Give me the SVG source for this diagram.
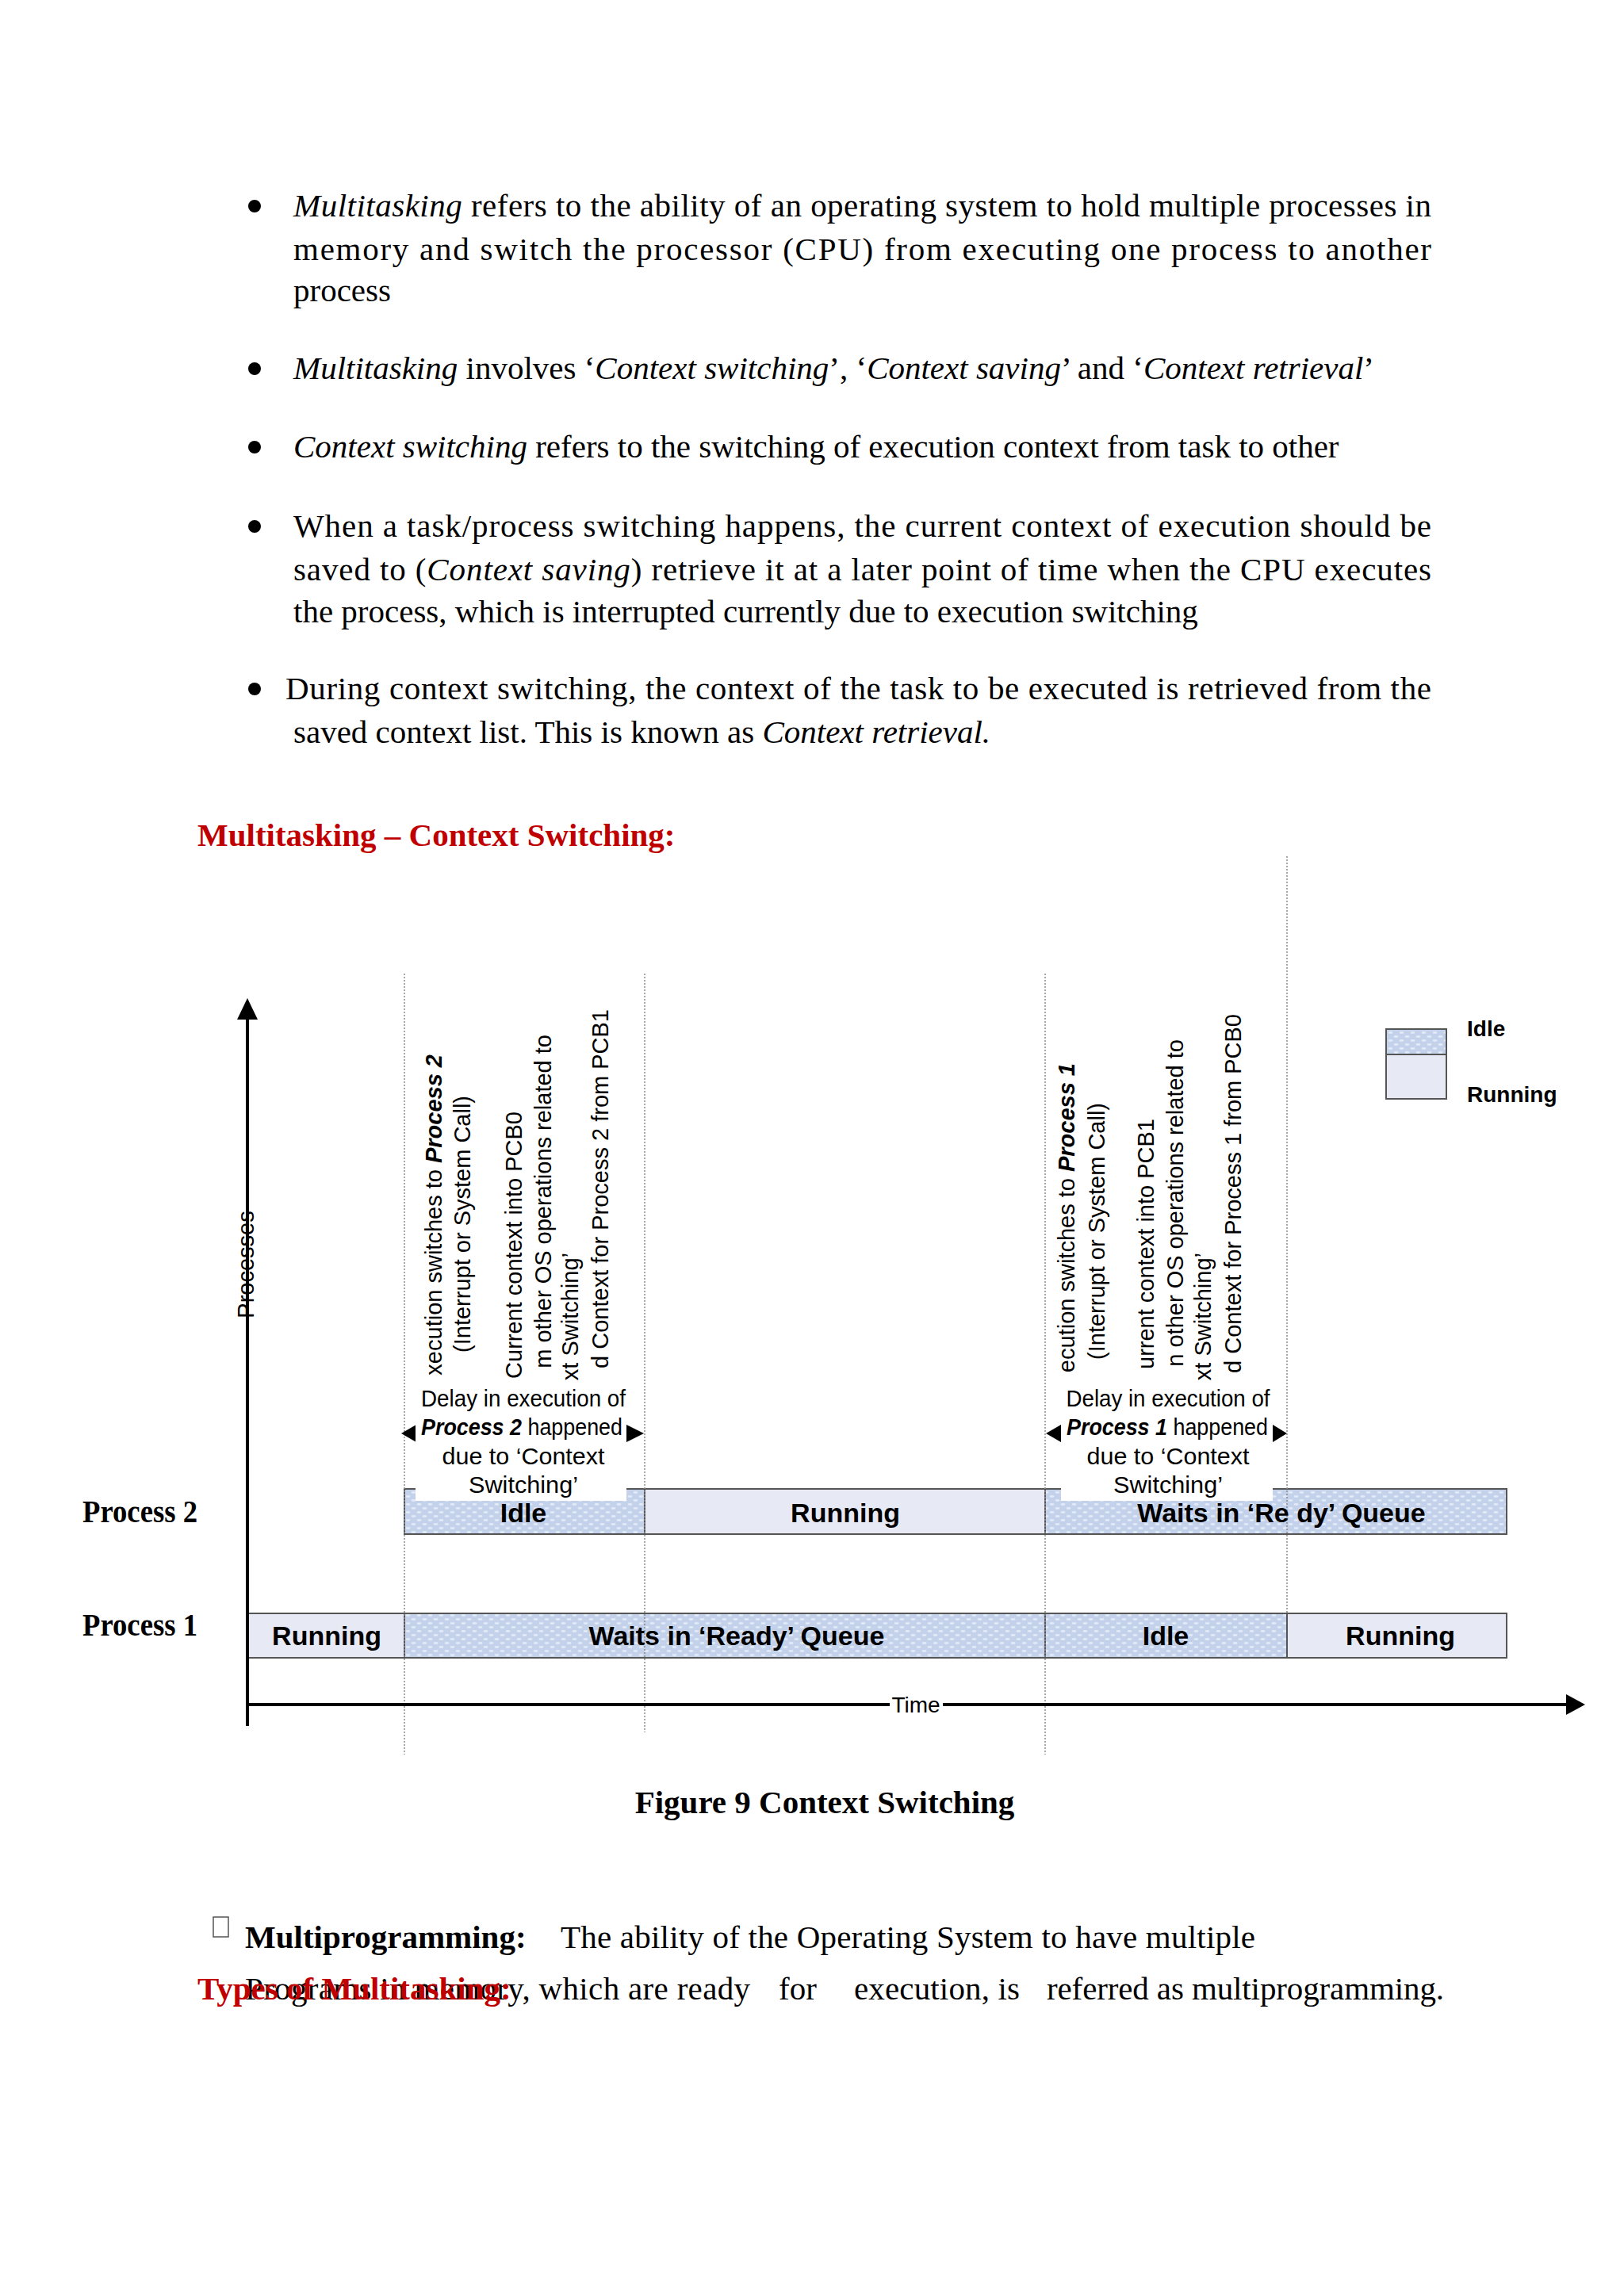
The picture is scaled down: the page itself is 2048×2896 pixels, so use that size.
<svg xmlns="http://www.w3.org/2000/svg" width="2048" height="2896" viewBox="0 0 2048 2896">
<style>
.body{font-family:"Liberation Serif","Times New Roman",serif;font-size:41px;fill:#000}
.it{font-style:italic}
.bd{font-weight:bold}
.red{fill:#C00000}
.sans{font-family:"Liberation Sans",Arial,sans-serif;fill:#000}
.ann{font-size:29px}
.bar{font-size:34px;font-weight:bold;text-anchor:middle}
.mid{text-anchor:middle}
.end{text-anchor:end}
.idle{fill:url(#dots);stroke:#555;stroke-width:2}
.run{fill:#E7E9F5;stroke:#555;stroke-width:2}
.vl{stroke:#8c8c8c;stroke-width:1.5;stroke-dasharray:2 2;fill:none}
.ax{stroke:#000;stroke-width:4;fill:none}
</style>
<defs>
<pattern id="dots" patternUnits="userSpaceOnUse" width="14" height="10">
<rect width="14" height="10" fill="#C3D2EA"/>
<ellipse cx="3.5" cy="2.5" rx="3" ry="1.4" fill="#E2EAF7"/>
<ellipse cx="10.5" cy="7.5" rx="3" ry="1.4" fill="#E2EAF7"/>
</pattern>
<clipPath id="rotclip"><rect x="480" y="1000" width="1300" height="745"/></clipPath>
</defs>
<rect width="2048" height="2896" fill="#fff"/>

<g id="bullets">
<circle cx="321" cy="260" r="8"/>
<circle cx="321" cy="465" r="8"/>
<circle cx="321" cy="564" r="8"/>
<circle cx="321" cy="664" r="8"/>
<circle cx="321" cy="869" r="8"/>
<text class="body" x="370" y="273" textLength="1435" lengthAdjust="spacing"><tspan class="it">Multitasking</tspan> refers to the ability of an operating system to hold multiple processes in</text>
<text class="body" x="370" y="328" textLength="1435" lengthAdjust="spacing">memory and switch the processor (CPU) from executing one process to another</text>
<text class="body" x="370" y="380">process</text>
<text class="body" x="370" y="478"><tspan class="it">Multitasking</tspan> involves ‘<tspan class="it">Context switching</tspan>’, ‘<tspan class="it">Context saving</tspan>’ and ‘<tspan class="it">Context retrieval</tspan>’</text>
<text class="body" x="370" y="577"><tspan class="it">Context switching</tspan> refers to the switching of execution context from task to other</text>
<text class="body" x="370" y="677" textLength="1435" lengthAdjust="spacing">When a task/process switching happens, the current context of execution should be</text>
<text class="body" x="370" y="732" textLength="1435" lengthAdjust="spacing">saved to (<tspan class="it">Context saving</tspan>) retrieve it at a later point of time when the CPU executes</text>
<text class="body" x="370" y="785">the process, which is interrupted currently due to execution switching</text>
<text class="body" x="360" y="882" textLength="1445" lengthAdjust="spacing">During context switching, the context of the task to be executed is retrieved from the</text>
<text class="body" x="370" y="937">saved context list. This is known as <tspan class="it">Context retrieval.</tspan></text>
</g>

<text id="heading" class="body bd red" x="249" y="1067">Multitasking – Context Switching:</text>

<g id="bars">
<rect id="p2-idle" class="idle" x="510" y="1878" width="303" height="57"/>
<rect id="p2-running" class="run" x="813" y="1878" width="505" height="57"/>
<rect id="p2-waits" class="idle" x="1318" y="1878" width="582" height="57"/>
<rect id="p1-running" class="run" x="313" y="2035" width="197" height="56"/>
<rect id="p1-waits" class="idle" x="510" y="2035" width="808" height="56"/>
<rect id="p1-idle" class="idle" x="1318" y="2035" width="305" height="56"/>
<rect id="p1-running2" class="run" x="1623" y="2035" width="277" height="56"/>
</g>

<g id="guides">
<line class="vl" x1="510" y1="1228" x2="510" y2="2213"/>
<line class="vl" x1="813" y1="1228" x2="813" y2="2185"/>
<line class="vl" x1="1318" y1="1228" x2="1318" y2="2213"/>
<line class="vl" x1="1623" y1="1080" x2="1623" y2="2035"/>
</g>

<g id="rotated-notes" class="sans ann" clip-path="url(#rotclip)">
<text class="end" transform="translate(557,1330) rotate(-90)">xecution switches to <tspan class="bd it">Process 2</tspan></text>
<text class="end" transform="translate(593,1382) rotate(-90)">(Interrupt or System Call)</text>
<text class="end" transform="translate(658,1402) rotate(-90)">Current context into PCB0</text>
<text class="end" transform="translate(695,1305) rotate(-90)">m other OS operations related to</text>
<text class="end" transform="translate(729,1580) rotate(-90)">xt Switching’</text>
<text class="end" transform="translate(767,1273) rotate(-90)">d Context for Process 2 from PCB1</text>
<text class="end" transform="translate(1355,1341) rotate(-90)">ecution switches to <tspan class="bd it">Process 1</tspan></text>
<text class="end" transform="translate(1393,1391) rotate(-90)">(Interrupt or System Call)</text>
<text class="end" transform="translate(1455,1411) rotate(-90)">urrent context into PCB1</text>
<text class="end" transform="translate(1492,1311) rotate(-90)">n other OS operations related to</text>
<text class="end" transform="translate(1527,1580) rotate(-90)">xt Switching’</text>
<text class="end" transform="translate(1565,1279) rotate(-90)">d Context for Process 1 from PCB0</text>
</g>

<g id="delay-note-1" class="sans ann">
<polygon points="506,1808 525,1797 525,1819"/>
<polygon points="812,1808 790,1797 790,1819"/>
<rect x="524" y="1745" width="266" height="148" fill="#fff"/>
<text class="mid" x="660" y="1774" textLength="258" lengthAdjust="spacingAndGlyphs">Delay in execution of</text>
<text class="mid" x="658" y="1810" textLength="254" lengthAdjust="spacingAndGlyphs"><tspan class="bd it">Process 2</tspan> happened</text>
<text class="mid" x="660" y="1847" textLength="205" lengthAdjust="spacingAndGlyphs">due to ‘Context</text>
<text class="mid" x="660" y="1883" textLength="138" lengthAdjust="spacingAndGlyphs">Switching’</text>
</g>

<g id="delay-note-2" class="sans ann">
<polygon points="1319,1808 1338,1797 1338,1819"/>
<polygon points="1623,1808 1605,1797 1605,1819"/>
<rect x="1338" y="1745" width="267" height="148" fill="#fff"/>
<text class="mid" x="1473" y="1774" textLength="257" lengthAdjust="spacingAndGlyphs">Delay in execution of</text>
<text class="mid" x="1472" y="1810" textLength="254" lengthAdjust="spacingAndGlyphs"><tspan class="bd it">Process 1</tspan> happened</text>
<text class="mid" x="1473" y="1847" textLength="205" lengthAdjust="spacingAndGlyphs">due to ‘Context</text>
<text class="mid" x="1473" y="1883" textLength="138" lengthAdjust="spacingAndGlyphs">Switching’</text>
</g>

<g id="bar-labels" class="sans">
<text class="bar" x="660" y="1920">Idle</text>
<text class="bar" x="1066" y="1920">Running</text>
<text class="bar" x="1616" y="1920">Waits in ‘Re dy’ Queue</text>
<text class="bar" x="412" y="2075">Running</text>
<text class="bar" x="929" y="2075">Waits in ‘Ready’ Queue</text>
<text class="bar" x="1470" y="2075">Idle</text>
<text class="bar" x="1766" y="2075">Running</text>
</g>

<g id="axes">
<line class="ax" x1="312" y1="2177" x2="312" y2="1280"/>
<polygon points="312,1259 299,1286 325,1286"/>
<line class="ax" x1="310" y1="2150" x2="1980" y2="2150"/>
<polygon points="1999,2150 1975,2137 1975,2163"/>
<rect x="1122" y="2134" width="67" height="30" fill="#fff"/>
<text class="sans mid" x="1155" y="2160" font-size="28">Time</text>
<text class="sans mid ann" transform="translate(320,1595) rotate(-90)">Processes</text>
</g>

<g id="process-labels" class="body bd">
<text x="104" y="1920" font-size="39" textLength="145" lengthAdjust="spacingAndGlyphs">Process 2</text>
<text x="104" y="2063" font-size="39" textLength="145" lengthAdjust="spacingAndGlyphs">Process 1</text>
</g>

<g id="legend" class="sans">
<rect class="idle" x="1748" y="1298" width="76" height="32" stroke-width="1.5"/>
<rect class="run" x="1748" y="1330" width="76" height="56" stroke-width="1.5"/>
<text x="1850" y="1307" font-size="28" font-weight="bold">Idle</text>
<text x="1850" y="1390" font-size="28" font-weight="bold">Running</text>
</g>

<text id="caption" class="body bd mid" x="1040" y="2287">Figure 9 Context Switching</text>

<g id="footer">
<rect x="269" y="2418" width="19" height="25" fill="none" stroke="#555" stroke-width="1.5"/>
<text class="body bd" x="309" y="2457">Multiprogramming:</text>
<text class="body" x="707" y="2457" textLength="876" lengthAdjust="spacing">The ability of the Operating System to have multiple</text>
<text class="body" x="309" y="2522" textLength="637" lengthAdjust="spacing">Programs in memory, which are ready</text>
<text class="body" x="982" y="2522">for</text>
<text class="body" x="1077" y="2522" textLength="209" lengthAdjust="spacing">execution, is</text>
<text class="body" x="1320" y="2522" textLength="501" lengthAdjust="spacing">referred as multiprogramming.</text>
<text class="body bd red" x="249" y="2522">Types of Multitasking:</text>
</g>
</svg>
